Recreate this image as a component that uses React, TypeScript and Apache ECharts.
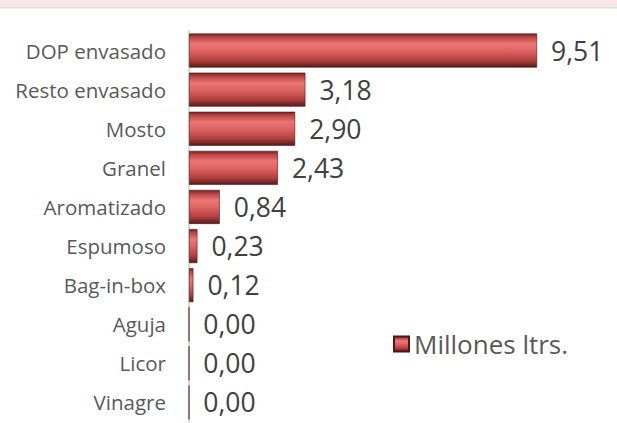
import React, { useEffect, useRef } from "react";
import * as echarts from "echarts";

const categories = [
  "DOP envasado",
  "Resto envasado",
  "Mosto",
  "Granel",
  "Aromatizado",
  "Espumoso",
  "Bag-in-box",
  "Aguja",
  "Licor",
  "Vinagre",
];
const values = [9.51, 3.18, 2.9, 2.43, 0.84, 0.23, 0.12, 0.0, 0.0, 0.0];
const seriesName = "Millones ltrs.";

export default function App() {
  const ref = useRef<HTMLDivElement>(null);
  useEffect(() => {
    if (!ref.current) return;
    const chart = echarts.init(ref.current, null, { renderer: "svg" });
    const barColor = new echarts.graphic.LinearGradient(0, 0, 0, 1, [
      { offset: 0, color: "#6e2424" },
      { offset: 0.1, color: "#b84444" },
      { offset: 0.3, color: "#ec7676" },
      { offset: 0.5, color: "#e06464" },
      { offset: 0.8, color: "#b23e3e" },
      { offset: 1, color: "#561a1a" },
    ]);
    chart.setOption({
      animation: false,
      textStyle: { fontFamily: "Open Sans" },
      graphic: [
        {
          type: "rect",
          shape: { x: 0, y: 0, width: 617, height: 7 },
          style: { fill: "#f8e8e9" },
        },
        {
          type: "rect",
          shape: { x: 0, y: 7, width: 617, height: 1.5 },
          style: { fill: "#e0dcdc" },
        },
      ],
      legend: {
        data: [{ name: seriesName, icon: "rect" }],
        left: 388,
        top: 326,
        itemWidth: 15,
        itemHeight: 15,
        itemGap: 4,
        textStyle: { fontSize: 26, color: "#595959", fontFamily: "Open Sans" },
      },
      grid: { left: 189, width: 366, top: 31, bottom: 1, containLabel: false },
      xAxis: {
        type: "value",
        min: 0,
        max: 10,
        show: false,
      },
      yAxis: {
        type: "category",
        inverse: true,
        data: categories,
        axisLine: { show: true, lineStyle: { color: "#d9d9d9", width: 2 } },
        axisTick: { show: false },
        axisLabel: {
          fontSize: 20.5,
          color: "#595959",
          margin: 23,
          fontFamily: "Open Sans",
        },
      },
      series: [
        {
          name: seriesName,
          type: "bar",
          data: values,
          barCategoryGap: "13%",
          itemStyle: { color: barColor, borderColor: "#4a1818", borderWidth: 0.6 },
          label: {
            show: true,
            position: "right",
            distance: 14,
            fontSize: 26.5,
            color: "#404040",
            fontFamily: "Open Sans",
            formatter: (p: any) => Number(p.value).toFixed(2).replace(".", ","),
          },
        },
      ],
    });
    return () => chart.dispose();
  }, []);
  return <div ref={ref} style={{ width: 617, height: 423, position: "absolute", left: 0, top: 0 }} />;
}
